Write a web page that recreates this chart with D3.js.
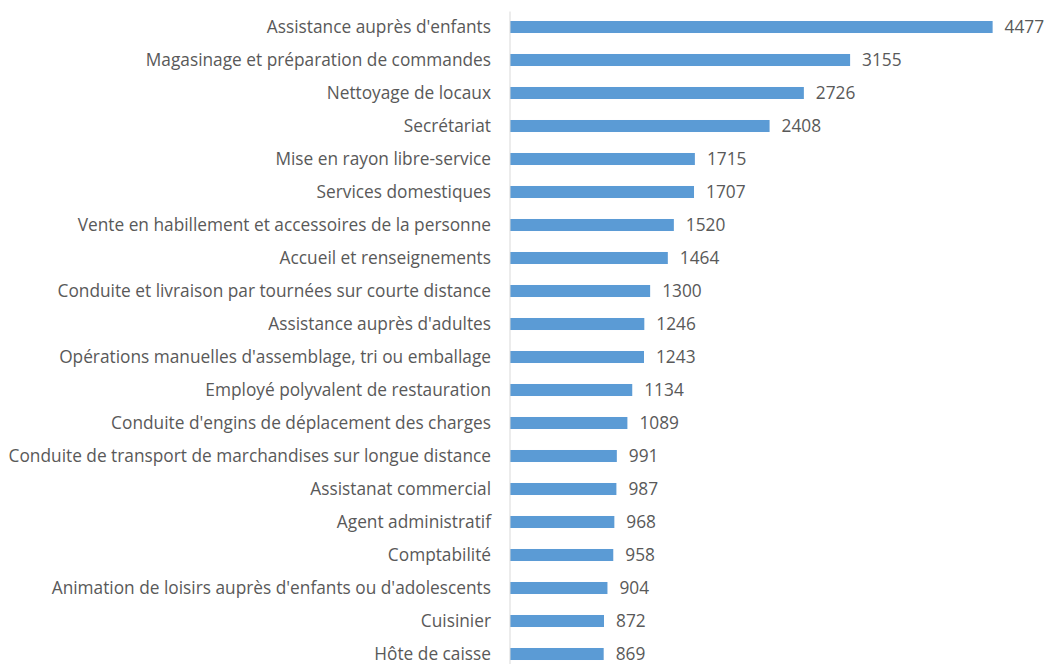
<!DOCTYPE html>
<html>
<head>
<meta charset="utf-8">
<script src="https://cdn.jsdelivr.net/npm/d3@7"></script>
<style>
  body { margin: 0; background: #fff; }
  text { font-family: "Open Sans", sans-serif; fill: #595959; }
</style>
</head>
<body>
<div id="chart"></div>
<script>
var categories = [
  "Assistance auprès d'enfants",
  "Magasinage et préparation de commandes",
  "Nettoyage de locaux",
  "Secrétariat",
  "Mise en rayon libre-service",
  "Services domestiques",
  "Vente en habillement et accessoires de la personne",
  "Accueil et renseignements",
  "Conduite et livraison par tournées sur courte distance",
  "Assistance auprès d'adultes",
  "Opérations manuelles d'assemblage, tri ou emballage",
  "Employé polyvalent de restauration",
  "Conduite d'engins de déplacement des charges",
  "Conduite de transport de marchandises sur longue distance",
  "Assistanat commercial",
  "Agent administratif",
  "Comptabilité",
  "Animation de loisirs auprès d'enfants ou d'adolescents",
  "Cuisinier",
  "Hôte de caisse"
];
var values = [4477, 3155, 2726, 2408, 1715, 1707, 1520, 1464, 1300, 1246,
              1243, 1134, 1089, 991, 987, 968, 958, 904, 872, 869];

var data = categories.map(function (c, i) { return {name: c, value: values[i]}; });

var width = 1048, height = 664;
var axisX = 510;

var svg = d3.select("#chart").append("svg")
  .attr("width", width)
  .attr("height", height);

var x = d3.scaleLinear().domain([0, 5000]).range([axisX, 1049]);
var y = d3.scaleBand()
  .domain(categories)
  .range([10.5, 670.5])
  .paddingInner(0.636)
  .paddingOuter(0.318);

// bars
svg.append("g")
  .selectAll("rect")
  .data(data)
  .enter()
  .append("rect")
  .attr("x", x(0))
  .attr("y", function (d) { return y(d.name); })
  .attr("width", function (d) { return x(d.value) - x(0); })
  .attr("height", y.bandwidth())
  .attr("fill", "#5b9bd5");

// category axis
var yAxis = d3.axisLeft(y).tickSize(0).tickPadding(19);
var gy = svg.append("g")
  .attr("transform", "translate(" + axisX + ",0)")
  .call(yAxis);
gy.select(".domain")
  .attr("stroke", "#d9d9d9")
  .attr("d", "M0,11.5V664");
gy.selectAll("text")
  .style("font-family", "'Open Sans', sans-serif")
  .style("font-size", "17.3px")
  .attr("fill", "#595959");

// value labels
svg.append("g")
  .selectAll("text")
  .data(data)
  .enter()
  .append("text")
  .attr("x", function (d) { return x(d.value) + 12; })
  .attr("y", function (d) { return y(d.name) + y.bandwidth() / 2; })
  .attr("dy", "0.35em")
  .style("font-size", "17.3px")
  .text(function (d) { return d.value; });
</script>
</body>
</html>
